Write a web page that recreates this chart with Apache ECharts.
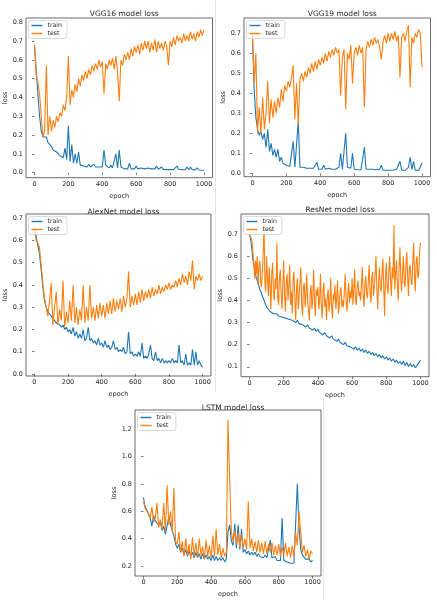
<!DOCTYPE html>
<html><head><meta charset="utf-8">
<script src="https://cdn.jsdelivr.net/npm/echarts@6/dist/echarts.min.js"></script>
<style>html,body{margin:0;padding:0;background:#fff}#c{width:437px;height:600px}</style>
</head><body><div id="c"></div>
<script>
const epochs = [0,10,20,30,40,50,60,70,80,90,100,110,120,130,140,150,160,170,180,190,200,210,220,230,240,250,260,270,280,290,300,310,320,330,340,350,360,370,380,390,400,410,420,430,440,450,460,470,480,490,500,510,520,530,540,550,560,570,580,590,600,610,620,630,640,650,660,670,680,690,700,710,720,730,740,750,760,770,780,790,800,810,820,830,840,850,860,870,880,890,900,910,920,930,940,950,960,970,980,990,1000];
const epochsFine = [0,5,10,15,20,25,30,35,40,45,50,55,60,65,70,75,80,85,90,95,100,105,110,115,120,125,130,135,140,145,150,155,160,165,170,175,180,185,190,195,200,205,210,215,220,225,230,235,240,245,250,255,260,265,270,275,280,285,290,295,300,305,310,315,320,325,330,335,340,345,350,355,360,365,370,375,380,385,390,395,400,405,410,415,420,425,430,435,440,445,450,455,460,465,470,475,480,485,490,495,500,505,510,515,520,525,530,535,540,545,550,555,560,565,570,575,580,585,590,595,600,605,610,615,620,625,630,635,640,645,650,655,660,665,670,675,680,685,690,695,700,705,710,715,720,725,730,735,740,745,750,755,760,765,770,775,780,785,790,795,800,805,810,815,820,825,830,835,840,845,850,855,860,865,870,875,880,885,890,895,900,905,910,915,920,925,930,935,940,945,950,955,960,965,970,975,980,985,990,995,1000];
const xTicks = [0,200,400,600,800,1000];

const titles = ['VGG16 model loss','VGG19 model loss','AlexNet model loss','ResNet model loss','LSTM model loss'];
const yTicks1 = [0.0,0.1,0.2,0.3,0.4,0.5,0.6,0.7,0.8];
const yTicks2 = [0.0,0.1,0.2,0.3,0.4,0.5,0.6,0.7];
const yTicks3 = [0.0,0.1,0.2,0.3,0.4,0.5,0.6,0.7];
const yTicks4 = [0.1,0.2,0.3,0.4,0.5,0.6,0.7];
const yTicks5 = [0.2,0.4,0.6,0.8,1.0,1.2];

const vgg16Train = [0.68,0.55,0.42,0.3,0.22,0.19,0.18,0.19,0.16,0.15,0.14,0.12,0.13,0.11,0.12,0.09,0.1,0.08,0.13,0.07,0.25,0.06,0.15,0.05,0.1,0.05,0.11,0.04,0.05,0.035,0.04,0.03,0.045,0.03,0.035,0.045,0.03,0.04,0.03,0.025,0.03,0.12,0.04,0.03,0.025,0.04,0.025,0.03,0.1,0.025,0.12,0.03,0.025,0.02,0.025,0.02,0.05,0.02,0.025,0.02,0.035,0.02,0.018,0.025,0.018,0.02,0.018,0.025,0.017,0.02,0.018,0.02,0.035,0.018,0.02,0.03,0.017,0.02,0.016,0.025,0.017,0.02,0.016,0.022,0.035,0.018,0.02,0.015,0.025,0.016,0.03,0.015,0.03,0.016,0.02,0.014,0.025,0.014,0.02,0.013,0.012];
const vgg16Test = [0.68,0.52,0.48,0.42,0.3,0.19,0.22,0.57,0.2,0.3,0.22,0.28,0.24,0.3,0.27,0.32,0.3,0.36,0.33,0.4,0.62,0.36,0.44,0.4,0.47,0.43,0.5,0.46,0.52,0.49,0.54,0.5,0.55,0.52,0.57,0.54,0.58,0.55,0.6,0.56,0.59,0.42,0.58,0.55,0.6,0.57,0.61,0.55,0.62,0.54,0.38,0.6,0.57,0.63,0.6,0.64,0.6,0.66,0.62,0.67,0.64,0.68,0.63,0.69,0.65,0.7,0.66,0.7,0.64,0.69,0.65,0.71,0.64,0.7,0.66,0.69,0.65,0.7,0.67,0.57,0.7,0.67,0.72,0.68,0.73,0.7,0.72,0.69,0.74,0.7,0.73,0.7,0.75,0.71,0.74,0.7,0.75,0.72,0.76,0.73,0.76];

const vgg19Train = [0.68,0.42,0.28,0.22,0.19,0.21,0.17,0.2,0.13,0.22,0.11,0.15,0.09,0.12,0.08,0.12,0.06,0.08,0.05,0.06,0.04,0.05,0.035,0.04,0.16,0.03,0.04,0.26,0.03,0.035,0.03,0.04,0.025,0.03,0.025,0.03,0.025,0.03,0.055,0.02,0.03,0.02,0.04,0.02,0.03,0.025,0.03,0.02,0.025,0.02,0.025,0.03,0.1,0.02,0.025,0.2,0.03,0.02,0.025,0.1,0.02,0.025,0.018,0.02,0.018,0.025,0.13,0.02,0.018,0.02,0.016,0.02,0.016,0.018,0.016,0.02,0.04,0.016,0.018,0.015,0.018,0.015,0.02,0.015,0.018,0.02,0.015,0.06,0.016,0.018,0.015,0.02,0.03,0.08,0.02,0.06,0.016,0.015,0.014,0.015,0.05];
const vgg19Test = [0.7,0.45,0.6,0.2,0.33,0.2,0.38,0.22,0.3,0.46,0.25,0.37,0.28,0.36,0.3,0.38,0.33,0.42,0.36,0.44,0.41,0.46,0.43,0.48,0.54,0.27,0.45,0.24,0.47,0.5,0.46,0.51,0.48,0.53,0.5,0.55,0.51,0.56,0.52,0.57,0.54,0.58,0.55,0.6,0.56,0.61,0.58,0.62,0.59,0.63,0.6,0.62,0.39,0.58,0.62,0.32,0.6,0.57,0.64,0.45,0.6,0.63,0.59,0.64,0.6,0.63,0.33,0.62,0.66,0.63,0.67,0.64,0.68,0.65,0.67,0.63,0.57,0.66,0.69,0.65,0.7,0.66,0.7,0.67,0.71,0.66,0.69,0.48,0.68,0.7,0.66,0.71,0.74,0.43,0.68,0.65,0.7,0.68,0.72,0.7,0.53];

const alexTrain = [0.66,0.62,0.58,0.54,0.47,0.39,0.33,0.3,0.28,0.27,0.26,0.25,0.24,0.23,0.23,0.22,0.21,0.22,0.2,0.21,0.19,0.2,0.18,0.21,0.17,0.19,0.16,0.18,0.16,0.2,0.15,0.16,0.21,0.15,0.16,0.14,0.15,0.13,0.16,0.13,0.14,0.12,0.15,0.12,0.13,0.11,0.12,0.15,0.11,0.12,0.1,0.11,0.1,0.12,0.09,0.1,0.19,0.09,0.1,0.08,0.09,0.08,0.1,0.08,0.14,0.07,0.08,0.07,0.09,0.13,0.07,0.06,0.1,0.06,0.07,0.05,0.07,0.05,0.06,0.05,0.06,0.05,0.07,0.05,0.06,0.05,0.13,0.05,0.06,0.04,0.09,0.04,0.05,0.04,0.11,0.04,0.1,0.04,0.06,0.04,0.03];
const alexTest = [0.66,0.6,0.59,0.57,0.49,0.41,0.34,0.3,0.26,0.33,0.41,0.22,0.3,0.37,0.22,0.29,0.24,0.42,0.21,0.28,0.23,0.33,0.24,0.4,0.23,0.3,0.22,0.29,0.24,0.4,0.23,0.3,0.24,0.4,0.25,0.3,0.24,0.31,0.25,0.32,0.26,0.31,0.25,0.32,0.27,0.33,0.27,0.34,0.28,0.33,0.29,0.34,0.28,0.35,0.3,0.34,0.46,0.3,0.35,0.31,0.36,0.31,0.37,0.32,0.38,0.33,0.37,0.34,0.38,0.34,0.39,0.35,0.38,0.36,0.4,0.36,0.39,0.37,0.4,0.38,0.41,0.38,0.4,0.39,0.42,0.39,0.43,0.4,0.45,0.41,0.44,0.4,0.46,0.42,0.51,0.38,0.44,0.42,0.45,0.42,0.44];

const resTrain = [0.7,0.66,0.58,0.54,0.5,0.48,0.45,0.43,0.41,0.39,0.37,0.36,0.35,0.345,0.34,0.335,0.34,0.33,0.335,0.325,0.33,0.32,0.325,0.315,0.32,0.31,0.315,0.3,0.31,0.295,0.3,0.29,0.295,0.28,0.29,0.275,0.28,0.265,0.275,0.26,0.27,0.255,0.26,0.245,0.255,0.24,0.245,0.23,0.24,0.225,0.23,0.215,0.225,0.21,0.215,0.2,0.21,0.195,0.2,0.19,0.195,0.18,0.19,0.175,0.185,0.17,0.18,0.165,0.175,0.16,0.17,0.155,0.165,0.15,0.16,0.145,0.155,0.14,0.15,0.135,0.145,0.13,0.14,0.125,0.135,0.12,0.13,0.115,0.125,0.11,0.125,0.105,0.12,0.1,0.115,0.1,0.11,0.095,0.105,0.1,0.13];
const resTestFine = [0.7,0.69,0.68,0.66,0.62,0.57,0.5,0.58,0.52,0.6,0.47,0.55,0.58,0.49,0.46,0.53,0.62,0.74,0.48,0.44,0.6,0.5,0.42,0.55,0.47,0.36,0.52,0.57,0.44,0.4,0.5,0.45,0.66,0.41,0.38,0.5,0.54,0.43,0.36,0.47,0.58,0.42,0.35,0.48,0.52,0.4,0.46,0.56,0.38,0.44,0.34,0.5,0.53,0.41,0.31,0.45,0.5,0.36,0.42,0.48,0.55,0.38,0.33,0.46,0.48,0.37,0.43,0.52,0.4,0.35,0.31,0.44,0.47,0.36,0.41,0.54,0.39,0.33,0.45,0.42,0.46,0.36,0.4,0.52,0.38,0.32,0.44,0.48,0.37,0.41,0.31,0.42,0.45,0.35,0.39,0.5,0.37,0.32,0.43,0.4,0.47,0.36,0.41,0.49,0.34,0.38,0.44,0.46,0.37,0.4,0.37,0.45,0.52,0.4,0.35,0.43,0.48,0.39,0.44,0.41,0.5,0.38,0.45,0.54,0.4,0.38,0.46,0.49,0.42,0.44,0.4,0.48,0.55,0.42,0.37,0.47,0.51,0.43,0.41,0.49,0.56,0.44,0.39,0.5,0.53,0.42,0.46,0.52,0.6,0.45,0.36,0.48,0.55,0.46,0.44,0.52,0.59,0.47,0.33,0.5,0.57,0.46,0.43,0.53,0.6,0.49,0.42,0.55,0.5,0.74,0.45,0.52,0.58,0.47,0.4,0.55,0.64,0.5,0.44,0.53,0.6,0.48,0.46,0.56,0.62,0.51,0.42,0.55,0.56,0.49,0.47,0.57,0.66,0.52,0.44,0.58,0.6,0.5,0.52,0.62,0.66];

const lstmTrain = [0.7,0.63,0.61,0.58,0.55,0.49,0.57,0.53,0.54,0.5,0.52,0.46,0.49,0.43,0.42,0.56,0.5,0.46,0.42,0.36,0.33,0.36,0.3,0.33,0.28,0.32,0.27,0.31,0.27,0.3,0.26,0.3,0.26,0.29,0.25,0.29,0.25,0.28,0.25,0.27,0.24,0.28,0.24,0.27,0.24,0.26,0.24,0.26,0.23,0.25,0.45,0.5,0.38,0.35,0.51,0.33,0.5,0.32,0.47,0.3,0.32,0.29,0.31,0.28,0.3,0.28,0.3,0.27,0.29,0.27,0.28,0.26,0.28,0.26,0.27,0.39,0.26,0.25,0.27,0.24,0.25,0.24,0.55,0.24,0.25,0.23,0.24,0.22,0.23,0.22,0.21,0.8,0.48,0.32,0.28,0.27,0.25,0.24,0.25,0.23,0.24];
const lstmTest = [0.67,0.62,0.6,0.58,0.55,0.63,0.52,0.55,0.66,0.48,0.54,0.47,0.66,0.45,0.79,0.5,0.6,0.45,0.77,0.38,0.36,0.45,0.3,0.38,0.27,0.4,0.28,0.36,0.25,0.41,0.27,0.37,0.26,0.4,0.28,0.34,0.25,0.39,0.27,0.35,0.26,0.42,0.27,0.47,0.28,0.36,0.26,0.33,0.27,0.3,1.27,0.83,0.45,0.38,0.46,0.36,0.44,0.34,0.43,0.33,0.4,0.32,0.67,0.33,0.4,0.31,0.38,0.3,0.39,0.3,0.37,0.29,0.38,0.29,0.36,0.3,0.37,0.28,0.35,0.28,0.36,0.27,0.34,0.28,0.37,0.27,0.34,0.26,0.35,0.27,0.44,0.35,0.6,0.45,0.3,0.35,0.27,0.32,0.25,0.31,0.29];

const panels = [
  {train: vgg16Train, test: vgg16Test, testX: epochs, yTicks: yTicks1, ymin: -0.027, ymax: 0.823, g: {left: 26, top: 18, width: 186.5, height: 159.7}, tTop: 5},
  {train: vgg19Train, test: vgg19Test, testX: epochs, yTicks: yTicks2, ymin: -0.017, ymax: 0.777, g: {left: 244, top: 18, width: 186.5, height: 158.7}, tTop: 5},
  {train: alexTrain, test: alexTest, testX: epochs, yTicks: yTicks3, ymin: -0.009, ymax: 0.719, g: {left: 26, top: 214, width: 185, height: 162}, tTop: 203},
  {train: resTrain, test: resTestFine, testX: epochsFine, yTicks: yTicks4, ymin: 0.055, ymax: 0.791, g: {left: 241, top: 214, width: 188, height: 162.7}, tTop: 201},
  {train: lstmTrain, test: lstmTest, testX: epochs, yTicks: yTicks5, ymin: 0.127, ymax: 1.339, g: {left: 135, top: 410, width: 186, height: 166}, tTop: 399}
];

const FONT = 'DejaVu Sans';
const TXT = '#262626';
const option = {
  animation: false,
  backgroundColor: '#fff',
  title: [], grid: [], xAxis: [], yAxis: [], legend: [], series: [],
  graphic: [
    {type: 'line', shape: {x1: 215.5, y1: 0, x2: 215.5, y2: 392}, style: {stroke: '#e6e6e6', lineWidth: 1}},
    {type: 'line', shape: {x1: 323.5, y1: 398, x2: 323.5, y2: 600}, style: {stroke: '#e6e6e6', lineWidth: 1}}
  ]
};

panels.forEach((p, i) => {
  option.title.push({
    text: titles[i], left: p.g.left + p.g.width / 2, top: p.tTop, textAlign: 'center',
    textStyle: {fontFamily: FONT, fontSize: 7.5, fontWeight: 'normal', color: TXT}
  });
  option.grid.push(Object.assign({show: true, borderColor: '#444', borderWidth: 0.8, backgroundColor: 'transparent'}, p.g));
  option.xAxis.push({
    type: 'value', gridIndex: i, min: -50, max: 1050,
    name: 'epoch', nameLocation: 'middle', nameGap: 15,
    nameTextStyle: {fontFamily: FONT, fontSize: 6.5, color: TXT},
    axisLine: {show: false}, splitLine: {show: false},
    axisTick: {show: true, inside: false, length: 2.5, lineStyle: {color: '#444', width: 0.7}, customValues: xTicks},
    axisLabel: {fontFamily: FONT, fontSize: 6.5, color: TXT, margin: 3, customValues: xTicks, formatter: v => String(v)}
  });
  option.yAxis.push({
    type: 'value', gridIndex: i, min: p.ymin, max: p.ymax,
    name: 'loss', nameLocation: 'middle', nameGap: 17, nameRotate: 90,
    nameTextStyle: {fontFamily: FONT, fontSize: 6.5, color: TXT},
    axisLine: {show: false}, splitLine: {show: false},
    axisTick: {show: true, inside: false, length: 2.5, lineStyle: {color: '#444', width: 0.7}, customValues: p.yTicks},
    axisLabel: {fontFamily: FONT, fontSize: 6.5, color: TXT, margin: 3, customValues: p.yTicks, formatter: v => v.toFixed(1)}
  });
  option.legend.push({
    data: ['train', 'test'], orient: 'vertical', left: p.g.left + 2.5, top: p.g.top + 2.5,
    icon: 'rect', itemWidth: 11, itemHeight: 1.4, itemGap: 2,
    padding: [2, 5, 2, 3], borderColor: '#d0d0d0', borderWidth: 0.8, borderRadius: 2,
    backgroundColor: 'rgba(255,255,255,0.8)', selectedMode: false,
    textStyle: {fontFamily: FONT, fontSize: 6.2, color: TXT}
  });
  option.series.push({
    name: 'train', type: 'line', xAxisIndex: i, yAxisIndex: i, symbol: 'none',
    lineStyle: {color: '#1f77b4', width: 1.1}, itemStyle: {color: '#1f77b4'},
    data: epochs.map((e, k) => [e, p.train[k]])
  });
  option.series.push({
    name: 'test', type: 'line', xAxisIndex: i, yAxisIndex: i, symbol: 'none',
    lineStyle: {color: '#ff7f0e', width: 1.1}, itemStyle: {color: '#ff7f0e'},
    data: p.testX.map((e, k) => [e, p.test[k]])
  });
});

const chart = echarts.init(document.getElementById('c'), null, {renderer: 'canvas'});
chart.setOption(option);
</script>
</body></html>
